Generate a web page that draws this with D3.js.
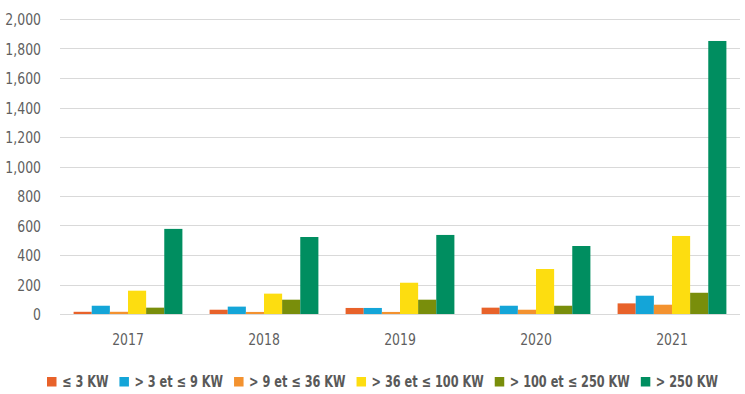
<!DOCTYPE html>
<html><head><meta charset="utf-8">
<script src="https://cdn.jsdelivr.net/npm/d3@7"></script>
<style>
html,body{margin:0;padding:0;background:#fff;}
svg text{font-family:"DejaVu Sans Condensed","DejaVu Sans",sans-serif;font-stretch:condensed;}
</style></head>
<body><svg id="c" width="745" height="394"></svg>
<script>
const categories = ["2017","2018","2019","2020","2021"];
const seriesNames = ["≤ 3 KW","> 3 et ≤ 9 KW","> 9 et ≤ 36 KW","> 36 et ≤ 100 KW","> 100 et ≤ 250 KW","> 250 KW"];
const s1 = [15, 29, 41, 43, 72];
const s2 = [56, 50, 41, 56, 124];
const s3 = [15, 14, 14, 29, 63];
const s4 = [158, 138, 212, 305, 529];
const s5 = [43, 97, 97, 56, 144];
const s6 = [577, 522, 536, 461, 1851];
const seriesValues = [s1, s2, s3, s4, s5, s6];
const colors = ["#E8622A","#14A5D8","#F3922F","#FDDD10","#798E0B","#008E60"];
const yTicks = [0,200,400,600,800,1000,1200,1400,1600,1800,2000];

(function(){
const svg = d3.select("#c");
const mLeft = 60, mRight = 740, mTop = 19, mBottom = 314;
function condense(sel, squeeze){
  sel.each(function(){
    const L = this.getComputedTextLength();
    this.setAttribute("textLength", (L*squeeze).toFixed(2));
    this.setAttribute("lengthAdjust", "spacingAndGlyphs");
  });
}
const x0 = d3.scaleBand().domain(categories).range([mLeft, mRight]);
const xi = d3.scaleBand().domain(d3.range(seriesNames.length)).range([0, x0.bandwidth()*0.8]);
const y = d3.scaleLinear().domain([0, 2000]).range([mBottom, mTop]);

svg.append("g").selectAll("line").data(yTicks).join("line")
  .attr("x1", mLeft).attr("x2", mRight)
  .attr("y1", d => Math.round(y(d)) + 0.5).attr("y2", d => Math.round(y(d)) + 0.5)
  .attr("stroke", "#d9d9d9").attr("stroke-width", 1);

const yAxis = d3.axisLeft(y).tickValues(yTicks).tickFormat(d3.format(",")).tickSize(0).tickPadding(0);
const ya = svg.append("g").attr("transform", "translate(41,0)").call(yAxis);
ya.select(".domain").remove();
ya.selectAll("text").attr("fill", "#5f5f5f").style("font-size", "16.5px").attr("dy", "0.36em");
condense(ya.selectAll("text"), 0.84);

const groups = svg.append("g").selectAll("g").data(categories).join("g")
  .attr("transform", d => `translate(${x0(d) + x0.bandwidth()*0.1},0)`);
groups.selectAll("rect").data((d, ci) => seriesValues.map((arr, si) => ({si, v: arr[ci]})))
  .join("rect")
  .attr("x", d => xi(d.si)).attr("width", xi.bandwidth())
  .attr("y", d => y(d.v)).attr("height", d => y(0) - y(d.v))
  .attr("fill", d => colors[d.si]);

const xAxis = d3.axisBottom(x0).tickSize(0).tickPadding(0);
const xa = svg.append("g").attr("transform", "translate(0,333)").call(xAxis);
xa.select(".domain").remove();
xa.selectAll("text").attr("fill", "#5f5f5f").style("font-size", "16.5px").attr("dy", "0.73em");
condense(xa.selectAll("text"), 0.84);

const lg = svg.append("g").attr("transform", "translate(0,381.5)");
let cx = 47;
seriesNames.forEach((n, i) => {
  lg.append("rect").attr("x", cx).attr("y", -4.5).attr("width", 9.5).attr("height", 9.5).attr("fill", colors[i]);
  const t = lg.append("text").attr("x", cx + 15).attr("y", 0).attr("dy", "0.36em")
    .attr("fill", "#595959").style("font-size", "16px").style("font-weight", "bold").text(n);
  condense(t, 0.785);
  cx += 15 + t.node().getComputedTextLength() + 11;
});
})();
</script></body></html>
